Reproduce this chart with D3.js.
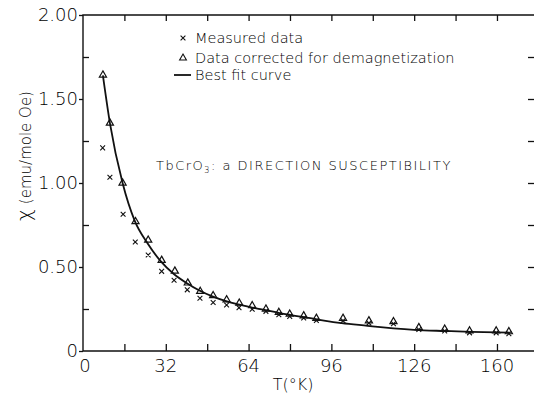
<!DOCTYPE html>
<html>
<head>
<meta charset="utf-8">
<script src="https://cdn.jsdelivr.net/npm/d3@7"></script>
<style>
  body { margin: 0; background: #fff; }
  svg text { font-family: 'DejaVu Sans', sans-serif; font-weight: 300; fill: #000; }
</style>
</head>
<body>
<div id="chart"></div>
<script>
///// DATA
const tempMeasured = [7.6, 10.4, 15.5, 20.2, 25.2, 30.4, 35.2, 40.3, 45.2, 50.3, 55.5, 60.3, 65.4, 70.7, 75.7, 79.9, 85.3, 90.2, 100.5, 110.5, 120, 129.8, 139.8, 149.4, 159.7, 164.6];
const chiMeasured = [1.215, 1.04, 0.82, 0.655, 0.577, 0.48, 0.427, 0.37, 0.32, 0.295, 0.28, 0.264, 0.255, 0.242, 0.222, 0.212, 0.202, 0.188, 0.186, 0.172, 0.168, 0.134, 0.125, 0.114, 0.114, 0.109];

const tempCorrected = [7.7, 10.4, 15.3, 20.3, 25.2, 30.4, 35.5, 40.5, 45.3, 50.3, 55.5, 60.4, 65.4, 70.7, 75.7, 79.9, 85.3, 90.2, 100.5, 110.5, 120, 129.8, 139.8, 149.4, 159.7, 164.6];
const chiCorrected = [1.643, 1.357, 1.0, 0.77, 0.66, 0.54, 0.476, 0.405, 0.355, 0.33, 0.305, 0.285, 0.27, 0.25, 0.23, 0.22, 0.21, 0.195, 0.195, 0.18, 0.175, 0.14, 0.13, 0.12, 0.12, 0.115];

const fitTemp = [7.7, 10.4, 15.3, 20, 25, 30, 35, 40, 45, 50, 55, 60, 65, 70, 76, 80, 90, 95, 100, 110, 115, 120, 128, 140, 150, 165];
const fitChi = [1.64, 1.357, 1.0, 0.775, 0.64, 0.535, 0.46, 0.405, 0.36, 0.325, 0.298, 0.277, 0.26, 0.245, 0.226, 0.215, 0.19, 0.176, 0.166, 0.15, 0.142, 0.135, 0.126, 0.119, 0.114, 0.109];

const xTickValues = [0, 32, 64, 96, 128, 160];
const xTickLabels = ['0', '32', '64', '96', '126', '160'];
const xMinorTicks = [16, 32, 48, 64, 80, 96, 112, 128, 144, 160];
const yTickValues = [0, 0.5, 1.0, 1.5, 2.0];
const yTickLabels = ['0', '0.50', '1.00', '1.50', '2.00'];
const yMinorTicks = [0.25, 0.75, 1.25, 1.75];
const yRightTicks = [0.25, 0.5, 0.75, 1.0, 1.25, 1.5, 1.75];

const legendLabels = ['Measured data', 'Data corrected for demagnetization', 'Best fit curve'];

///// SETUP
const WIDTH = 534, HEIGHT = 395;
const MARGIN = { top: 15, right: -1, bottom: 44, left: 83 };
const INK = '#111';
const FONT = "'DejaVu Sans', sans-serif";

const svg = d3.select('#chart').append('svg')
    .attr('width', WIDTH)
    .attr('height', HEIGHT);

const x = d3.scaleLinear()
    .domain([0, 174.7])
    .range([MARGIN.left, WIDTH - MARGIN.right]);

const y = d3.scaleLinear()
    .domain([0, 2])
    .range([HEIGHT - MARGIN.bottom, MARGIN.top]);

const g = svg.append('g');

// FRAME
g.append('path')
    .attr('d', `M${x(174.7)},${y(2)}H${x(0)}V${y(0)}H${x(174.7)}`)
    .attr('fill', 'none')
    .attr('stroke', INK)
    .attr('stroke-width', 1.4);

// BOTTOM AXIS (inner ticks, labels)
const xAxis = g.append('g')
    .attr('transform', `translate(0, ${y(0)})`)
    .call(d3.axisBottom(x).tickValues(xMinorTicks).tickSize(-7).tickFormat(''));
xAxis.select('.domain').remove();
xAxis.selectAll('line').attr('stroke', INK).attr('stroke-width', 1.3);

g.selectAll('.x-label')
    .data(xTickValues)
    .enter()
    .append('text')
    .attr('class', 'x-label')
    .attr('x', d => x(d) + (d === 0 ? 2 : 0))
    .attr('y', y(0) + 21)
    .attr('text-anchor', 'middle')
    .style('font-size', '18px')
    .text((d, i) => xTickLabels[i]);

// TOP AXIS (inner ticks)
const xTop = g.append('g')
    .attr('transform', `translate(0, ${y(2)})`)
    .call(d3.axisTop(x).tickValues(xMinorTicks).tickSize(-6).tickFormat(''));
xTop.select('.domain').remove();
xTop.selectAll('line').attr('stroke', INK).attr('stroke-width', 1.3);

// LEFT AXIS (outer major, inner minor)
const yAxis = g.append('g')
    .attr('transform', `translate(${x(0)}, 0)`)
    .call(d3.axisLeft(y).tickValues(yTickValues).tickSize(4).tickPadding(1)
        .tickFormat((d, i) => yTickLabels[i]));
yAxis.select('.domain').remove();
yAxis.selectAll('line').attr('stroke', INK).attr('stroke-width', 1.3);
yAxis.selectAll('text')
    .style('font-family', FONT)
    .style('font-weight', 300)
    .style('font-size', '18px')
    .attr('fill', '#000');

const yMinor = g.append('g')
    .attr('transform', `translate(${x(0)}, 0)`)
    .call(d3.axisRight(y).tickValues(yMinorTicks).tickSize(6).tickFormat(''));
yMinor.select('.domain').remove();
yMinor.selectAll('line').attr('stroke', INK).attr('stroke-width', 1.3);

// RIGHT AXIS (inner ticks)
const yRight = g.append('g')
    .attr('transform', `translate(${x(174.7)}, 0)`)
    .call(d3.axisLeft(y).tickValues(yRightTicks).tickSize(7).tickFormat(''));
yRight.select('.domain').remove();
yRight.selectAll('line').attr('stroke', INK).attr('stroke-width', 1.3)
    .attr('x1', 0).attr('x2', -7);

// AXIS TITLES
const yTitle = svg.append('text')
    .attr('transform', `translate(31, 156) rotate(-90)`)
    .attr('text-anchor', 'middle')
    .style('font-size', '15px');
yTitle.append('tspan').style('font-size', '20px').text('χ');
yTitle.append('tspan').attr('dx', 5).text('(emu/mole  Oe)');

svg.append('text')
    .attr('x', 293)
    .attr('y', 390)
    .attr('text-anchor', 'middle')
    .style('font-size', '16px')
    .text('T(°K)');

// FIT CURVE
const line = d3.line()
    .x((d, i) => x(fitTemp[i]))
    .y(d => y(d))
    .curve(d3.curveMonotoneX);

g.append('path')
    .datum(fitChi)
    .attr('d', line)
    .attr('fill', 'none')
    .attr('stroke', INK)
    .attr('stroke-width', 1.8);

// MEASURED (x marks)
const cross = 2.4;
function crossPath(cx, cy) {
    return `M${cx - cross},${cy - cross}L${cx + cross},${cy + cross}M${cx - cross},${cy + cross}L${cx + cross},${cy - cross}`;
}
g.selectAll('.measured')
    .data(chiMeasured)
    .enter()
    .append('path')
    .attr('class', 'measured')
    .attr('d', (d, i) => crossPath(x(tempMeasured[i]), y(d) + 1))
    .attr('fill', 'none')
    .attr('stroke', INK)
    .attr('stroke-width', 1.1);

// CORRECTED (open triangles)
const tri = d3.symbol().type(d3.symbolTriangle).size(22);
g.selectAll('.corrected')
    .data(chiCorrected)
    .enter()
    .append('path')
    .attr('class', 'corrected')
    .attr('d', tri)
    .attr('transform', (d, i) => `translate(${x(tempCorrected[i])}, ${y(d)})`)
    .attr('fill', 'none')
    .attr('stroke', INK)
    .attr('stroke-width', 1.2);

// LEGEND
const legend = svg.append('g');
const legendY = [38, 58, 75];
legend.append('path')
    .attr('d', crossPath(183, legendY[0]))
    .attr('fill', 'none').attr('stroke', INK).attr('stroke-width', 1.1);
legend.append('path')
    .attr('d', d3.symbol().type(d3.symbolTriangle).size(20)())
    .attr('transform', `translate(183, ${legendY[1]})`)
    .attr('fill', 'none').attr('stroke', INK).attr('stroke-width', 1.1);
legend.append('line')
    .attr('x1', 174).attr('x2', 191)
    .attr('y1', legendY[2]).attr('y2', legendY[2])
    .attr('stroke', INK).attr('stroke-width', 1.8);
legend.selectAll('text')
    .data(legendLabels)
    .enter()
    .append('text')
    .attr('x', 195)
    .attr('y', (d, i) => legendY[i] + 5)
    .style('font-size', '14.5px')
    .text(d => d);

// ANNOTATION
const note = svg.append('text')
    .attr('x', 156)
    .attr('y', 170)
    .style('font-size', '13px')
    .style('letter-spacing', '1.5px');
note.append('tspan').text('TbCrO');
note.append('tspan').attr('dy', 3).style('font-size', '8px').text('3');
note.append('tspan').attr('dy', -3).text(':  a  DIRECTION   SUSCEPTIBILITY');
</script>
</body>
</html>
